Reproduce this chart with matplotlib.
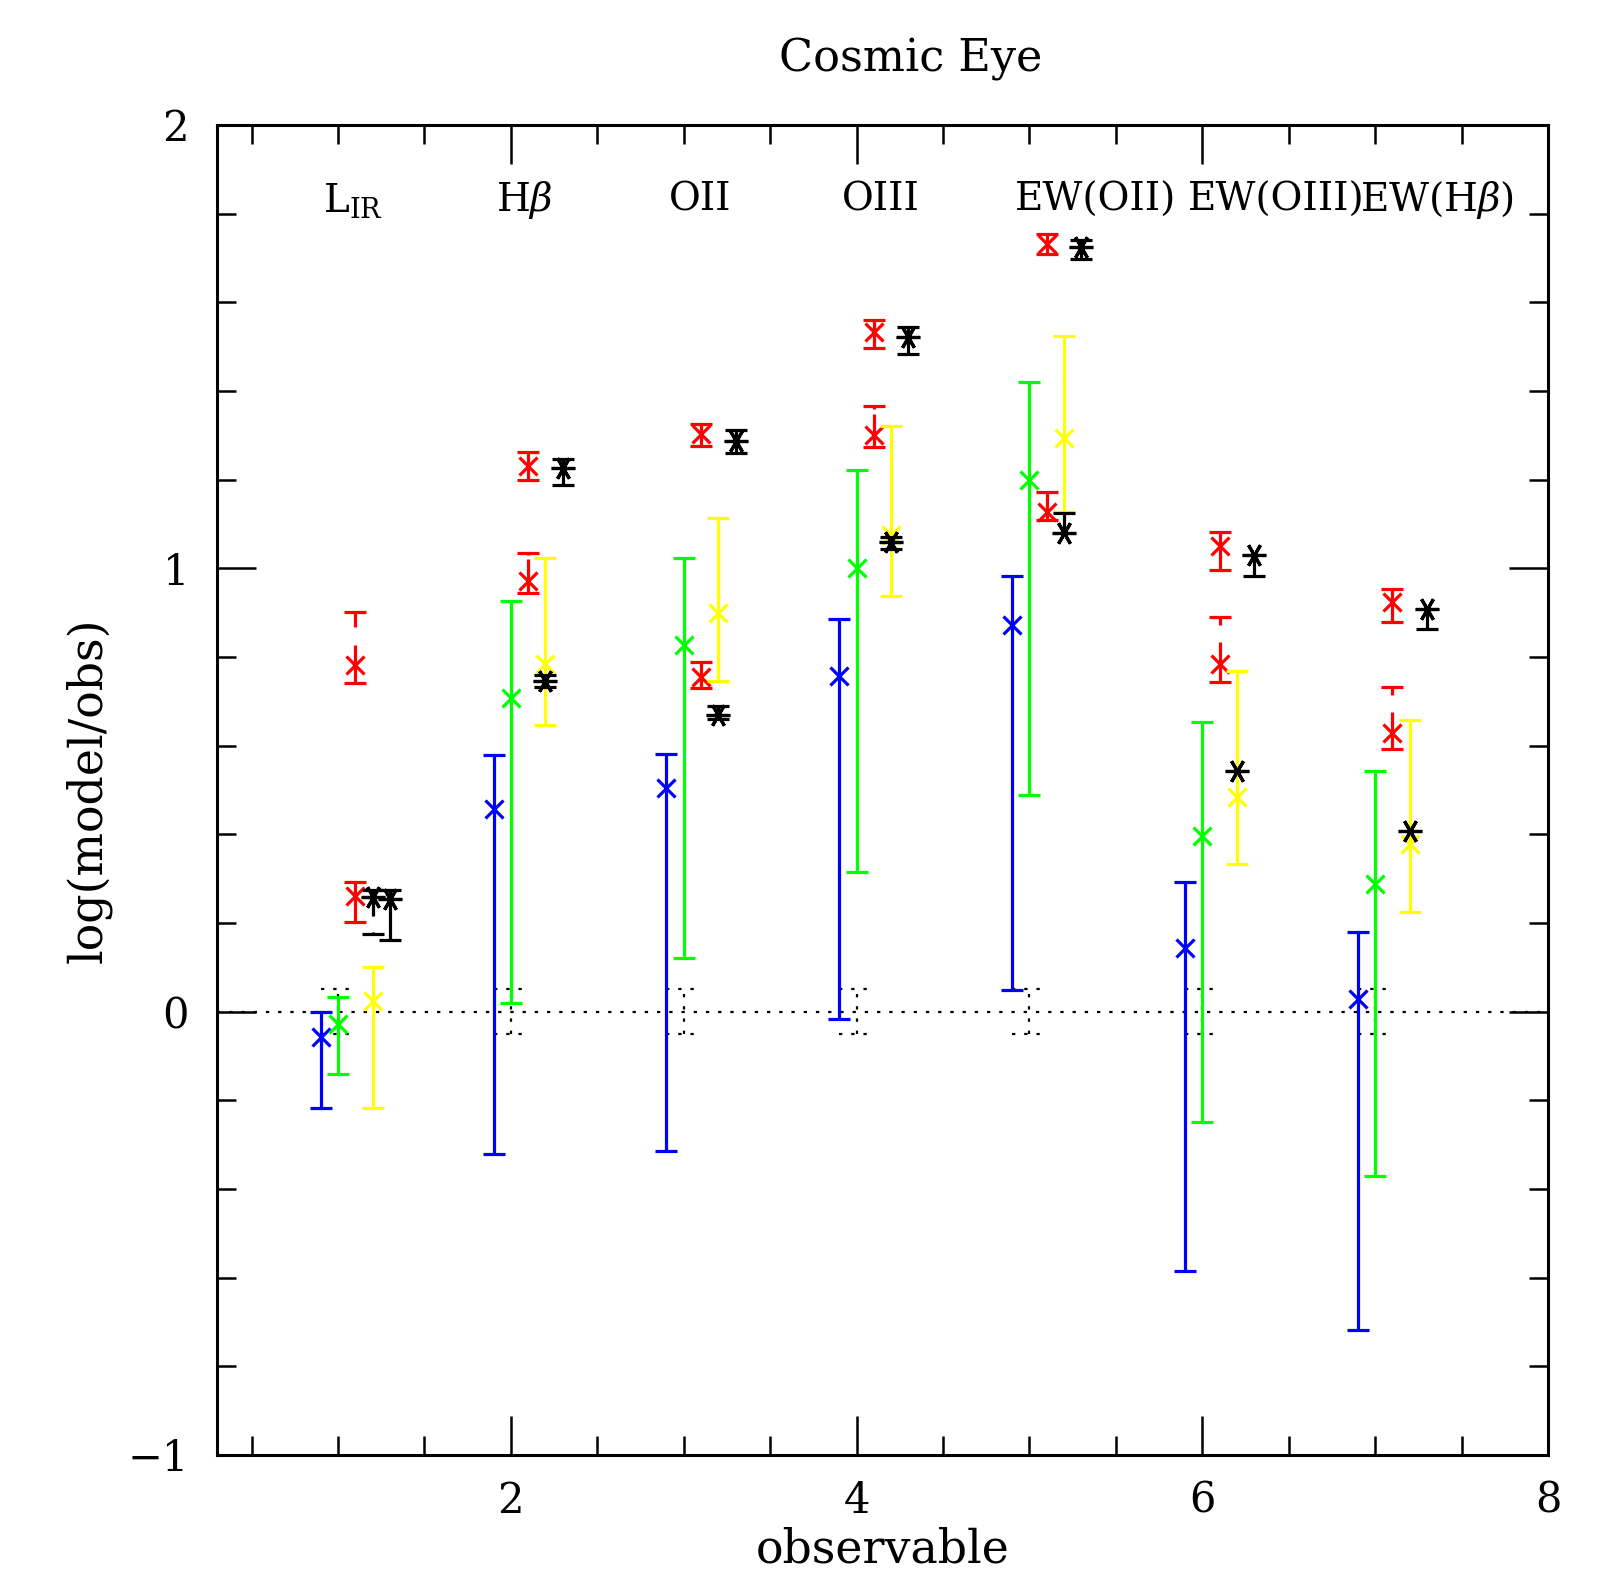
import numpy as np
import matplotlib
matplotlib.use('Agg')
import matplotlib.pyplot as plt

# ── data (log model/obs per observable) ─────────────────────────────────────
obs    = np.array([1, 2, 3, 4, 5, 6, 7])
names  = [r'L$_{\rm IR}$', r'H$\beta$', 'OII', 'OIII', 'EW(OII)', 'EW(OIII)', r'EW(H$\beta$)']
obs_err = 0.05

blue_y   = [-0.057, 0.457, 0.504, 0.757, 0.872, 0.143, 0.028]
blue_lo  = [-0.217, -0.322, -0.315, -0.017, 0.049, -0.585, -0.717]
blue_hi  = [0.000, 0.579, 0.582, 0.885, 0.983, 0.293, 0.179]

green_y  = [-0.027, 0.708, 0.826, 1.000, 1.200, 0.396, 0.287]
green_lo = [-0.140, 0.020, 0.121, 0.314, 0.489, -0.248, -0.370]
green_hi = [0.032, 0.927, 1.023, 1.222, 1.420, 0.654, 0.542]

yellow_y  = [0.024, 0.784, 0.900, 1.075, 1.295, 0.485, 0.379]
yellow_lo = [-0.217, 0.646, 0.745, 0.938, 1.128, 0.332, 0.224]
yellow_hi = [0.101, 1.024, 1.113, 1.320, 1.523, 0.769, 0.657]

red_a_y  = [0.261, 1.231, 1.303, 1.533, 1.732, 1.051, 0.923]
red_a_lo = [0.202, 1.199, 1.276, 1.498, 1.708, 0.997, 0.878]
red_a_hi = [0.292, 1.263, 1.326, 1.561, 1.753, 1.081, 0.953]

red_b_y  = [0.781, 0.972, 0.754, 1.300, 1.128, 0.784, 0.628]
red_b_lo = [0.742, 0.945, 0.730, 1.274, 1.108, 0.744, 0.592]
red_b_hi = [0.901, 1.034, 0.788, 1.366, 1.173, 0.891, 0.732]
red_b_gtop = [0.868, 1.030, np.nan, 1.360, np.nan, 0.871, 0.715]
red_b_gbot = [0.828, 1.020, np.nan, 1.348, np.nan, 0.833, 0.676]

black_a_y  = [0.255, 1.226, 1.288, 1.521, 1.725, 1.031, 0.908]
black_a_lo = [0.162, 1.188, 1.260, 1.484, 1.698, 0.982, 0.863]
black_a_hi = [0.274, 1.247, 1.311, 1.544, 1.741, 1.031, 0.908]

black_b_y  = [0.259, 0.746, 0.670, 1.059, 1.079, 0.543, 0.407]
black_b_lo = [0.174, 0.732, 0.659, 1.044, 1.079, 0.543, 0.407]
black_b_hi = [0.274, 0.760, 0.690, 1.070, 1.124, 0.543, 0.407]
black_b_gtop = [0.216, np.nan, np.nan, np.nan, np.nan, np.nan, np.nan]
black_b_gbot = [0.180, np.nan, np.nan, np.nan, np.nan, np.nan, np.nan]

plt.rcParams['font.family'] = 'DejaVu Serif'
plt.rcParams['mathtext.fontset'] = 'dejavuserif'

LW = 2.3
CAP = 16
MS = 13
XMARK = 'x'
STAR = (6, 2, 90)

fig = plt.figure(figsize=(16.18, 15.76), dpi=100)
ax = fig.add_axes([0.1341, 0.0768, 0.8226, 0.8439])


def bars(ax, x, y, lo, hi, col, marker, gtop=None, gbot=None, ms=MS):
    for i in range(len(x)):
        gt = np.nan if gtop is None else gtop[i]
        gb = np.nan if gbot is None else gbot[i]
        if np.isnan(gt):
            segs = [(lo[i], hi[i])]
        else:
            segs = [(lo[i], gb), (gt, hi[i])]
        for a, b in segs:
            if b > a:
                ax.plot([x[i], x[i]], [a, b], color=col, lw=LW,
                        solid_capstyle='butt')
        for c in (lo[i], hi[i]):
            if c != y[i]:
                ax.plot([x[i]], [c], marker='_', ms=CAP, mew=LW, color=col,
                        ls='none')
        ax.plot([x[i]], [y[i]], marker=marker, ms=ms, mew=LW, color=col,
                ls='none')


# zero line + observational uncertainty (dotted)
DOT = (0, (1.5, 4))
ax.axhline(0, color='k', lw=1.6, ls=DOT)
for xi in obs:
    ax.plot([xi, xi], [-obs_err, obs_err], color='k', lw=1.6, ls=DOT)
    for c in (-obs_err, obs_err):
        ax.plot([xi - 0.1, xi + 0.1], [c, c], color='k', lw=1.6, ls=DOT)

bars(ax, obs - 0.1, blue_y, blue_lo, blue_hi, '#0000ff', XMARK)
bars(ax, obs, green_y, green_lo, green_hi, '#00ff00', XMARK)
bars(ax, obs + 0.1, red_a_y, red_a_lo, red_a_hi, '#ff0000', XMARK)
bars(ax, obs + 0.1, red_b_y, red_b_lo, red_b_hi, '#ff0000', XMARK,
     red_b_gtop, red_b_gbot)
bars(ax, obs + 0.2, yellow_y, yellow_lo, yellow_hi, '#ffff00', XMARK)
bars(ax, obs + 0.3, black_a_y, black_a_lo, black_a_hi, 'k', STAR, ms=17)
bars(ax, obs + 0.2, black_b_y, black_b_lo, black_b_hi, 'k', STAR,
     black_b_gtop, black_b_gbot, ms=17)

for xi, nm in zip(obs, names):
    ax.text(xi - 0.085, 1.83, nm, fontsize=28, ha='left', va='center')

ax.set_xlim(0.3, 8)
ax.set_ylim(-1, 2)
ax.set_xticks([2, 4, 6, 8])
ax.set_xticks(np.arange(0.5, 8, 0.5), minor=True)
ax.set_yticks([-1, 0, 1, 2])
ax.set_yticks(np.arange(-1, 2.01, 0.2), minor=True)
ax.set_yticklabels(['\u22121', '0', '1', '2'])
ax.tick_params(which='both', direction='in', top=True, right=True,
               labelsize=30, width=1.8)
ax.tick_params(axis='y', pad=20)
ax.tick_params(axis='x', pad=18)
ax.tick_params(which='major', length=28)
ax.tick_params(which='minor', length=14)
for s in ax.spines.values():
    s.set_linewidth(2.2)

ax.set_xlabel('observable', fontsize=33, labelpad=4)
ax.set_ylabel('log(model/obs)', fontsize=33, labelpad=12)
fig.text(0.563, 0.9625, 'Cosmic Eye', fontsize=32, ha='center', va='center')

fig.savefig('out.png', dpi=100, facecolor='white')
